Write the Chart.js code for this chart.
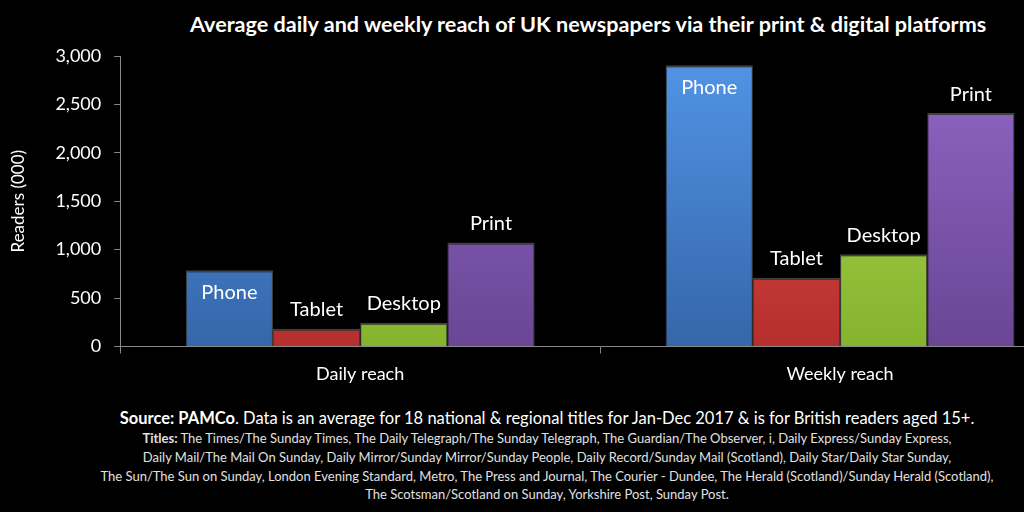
<!DOCTYPE html>
<html>
<head>
<meta charset="utf-8">
<script src="https://cdn.jsdelivr.net/npm/chart.js@4.4.1/dist/chart.umd.min.js"></script>
<style>
  html, body { margin: 0; padding: 0; background: #000; width: 1024px; height: 512px; overflow: hidden; }
  body { position: relative; font-family: Lato, "Open Sans", sans-serif; color: #fff; }
  #wrap { position: absolute; left: 0; top: 0; width: 1080px; height: 400px; }
  #title { position: absolute; top: 11px; left: 190px; white-space: nowrap; font-weight: bold; font-size: 21.6px; }
  #source { position: absolute; top: 407px; left: 0; width: 1094px; text-align: center; }
  #source .main { font-size: 16.5px; color: #fff; line-height: 22px; }
  #source .titles { font-size: 13px; color: #e0e0e0; line-height: 18.8px; }
</style>
</head>
<body>
<div id="title">Average daily and weekly reach of UK newspapers via their print &amp; digital platforms</div>
<div id="wrap"><canvas id="chart" width="1080" height="400"></canvas></div>
<div id="source">
  <div class="main"><b>Source: PAMCo</b>. Data is an average for 18 national &amp; regional titles for Jan-Dec 2017 &amp; is for British readers aged 15+.</div>
  <div class="titles"><b>Titles:</b> The Times/The Sunday Times, The Daily Telegraph/The Sunday Telegraph, The Guardian/The Observer, i, Daily Express/Sunday Express,<br>
  Daily Mail/The Mail On Sunday, Daily Mirror/Sunday Mirror/Sunday People, Daily Record/Sunday Mail (Scotland), Daily Star/Daily Star Sunday,<br>
  The Sun/The Sun on Sunday, London Evening Standard, Metro, The Press and Journal, The Courier - Dundee, The Herald (Scotland)/Sunday Herald (Scotland),<br>
  The Scotsman/Scotland on Sunday, Yorkshire Post, Sunday Post.</div>
</div>
<script>
const categories = ["Daily reach", "Weekly reach"];
const seriesNames = ["Phone", "Tablet", "Desktop", "Print"];
const phone = [786, 2905];
const tablet = [182, 708];
const desktop = [244, 952];
const print = [1073, 2410];
const yMax = 3000;
const yStep = 500;

// top/bottom colours for the shaded bars
const shades = {
  Phone: ["#5294e6", "#3566aa"],
  Tablet: ["#e8504d", "#b52f2c"],
  Desktop: ["#acdb4f", "#86b32e"],
  Print: ["#9166c4", "#6a4695"]
};

function shaded(name) {
  return (c) => {
    const area = c.chart.chartArea;
    if (!area) return shades[name][0];
    const g = c.chart.ctx.createLinearGradient(0, area.top, 0, area.bottom);
    g.addColorStop(0, shades[name][0]);
    g.addColorStop(1, shades[name][1]);
    return g;
  };
}

const values = [phone, tablet, desktop, print];

const barLabels = {
  id: "barLabels",
  afterDatasetsDraw(chart) {
    const ctx = chart.ctx;
    ctx.save();
    ctx.font = "20px Lato, 'Open Sans', sans-serif";
    ctx.fillStyle = "#fff";
    ctx.textAlign = "center";
    ctx.textBaseline = "middle";
    chart.data.datasets.forEach((ds, i) => {
      chart.getDatasetMeta(i).data.forEach(bar => {
        const inside = ds.label === "Phone";
        const y = inside ? bar.y + 22 : bar.y - 19;
        ctx.fillText(ds.label, bar.x, y);
      });
    });
    ctx.restore();
  }
};

new Chart(document.getElementById("chart"), {
  type: "bar",
  data: {
    labels: categories,
    datasets: seriesNames.map((name, i) => ({
      label: name,
      data: values[i],
      backgroundColor: shaded(name),
      borderColor: "rgba(255,255,255,0.25)",
      borderWidth: { top: 2, left: 1, right: 1 },
      borderSkipped: "bottom",
      barPercentage: 1,
      categoryPercentage: 0.727
    }))
  },
  options: {
    responsive: false,
    animation: false,
    layout: { padding: { top: 56, left: 8, right: 0, bottom: 5 } },
    plugins: {
      legend: { display: false },
      tooltip: { enabled: false }
    },
    scales: {
      x: {
        grid: { display: true, drawOnChartArea: false, drawTicks: true, tickLength: 7, color: "#888", offset: true },
        border: { color: "#888" },
        ticks: { color: "#fff", font: { size: 18, family: "Lato" }, padding: 10 }
      },
      y: {
        min: 0,
        max: yMax,
        grid: { display: true, drawOnChartArea: false, drawTicks: true, tickLength: 6, color: "#888" },
        border: { color: "#888" },
        ticks: { stepSize: yStep, color: "#fff", font: { size: 18, family: "Lato" }, padding: 13 },
        title: { display: true, text: "Readers (000)", color: "#fff", font: { size: 17, family: "Lato" }, padding: { top: 0, bottom: 14 } }
      }
    }
  },
  plugins: [barLabels]
});
</script>
</body>
</html>
